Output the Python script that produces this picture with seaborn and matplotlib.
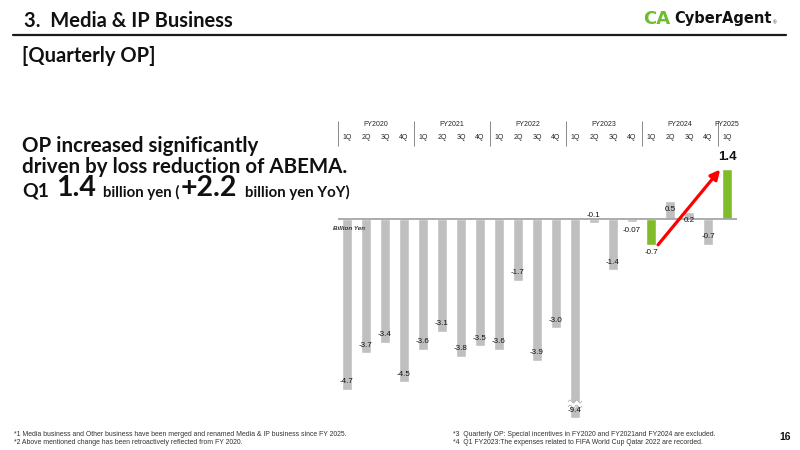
import numpy as np
import pandas as pd
import matplotlib
matplotlib.use("Agg")
import matplotlib.pyplot as plt
import seaborn as sns

# Quarterly OP of Media & IP business (billion yen)
fiscal_years = ["FY2020", "FY2021", "FY2022", "FY2023", "FY2024", "FY2025"]
quarters_per_year = [4, 4, 4, 4, 4, 1]
quarter_labels = ["1Q", "2Q", "3Q", "4Q"] * 5 + ["1Q"]
op_values = [-4.7, -3.7, -3.4, -4.5,
             -3.6, -3.1, -3.8, -3.5,
             -3.6, -1.7, -3.9, -3.0,
             -9.4, -0.1, -1.4, -0.07,
             -0.7, 0.5, 0.2, -0.7,
             1.4]
highlight_idx = [16, 20]          # Q1 FY2024 und Q1 FY2025
label_outside_idx = [15, 16, 20]  # Werte, die ausserhalb des Balkens stehen
axis_floor = -5.5                 # -9.4 wird abgeschnitten dargestellt

W, H = 800, 450
GREY = "#BFBFBF"
GREEN = "#80BC2A"

sns.set_theme(style="white")
plt.rcParams["font.family"] = ["Liberation Sans", "DejaVu Sans"]

fig = plt.figure(figsize=(8, 4.5), dpi=100)


def fx(px):
    return px / W


def fy(py):
    return 1 - py / H


# Daten aufbereiten
years_col = [fy_ for fy_, n in zip(fiscal_years, quarters_per_year) for _ in range(n)]
df = pd.DataFrame({"year": years_col, "quarter": quarter_labels, "op": op_values})
df["period"] = df["year"] + " " + df["quarter"]
df["shown"] = df["op"].clip(lower=axis_floor)
df["color"] = [GREEN if i in highlight_idx else GREY for i in range(len(df))]

# Hauptachse
ax = fig.add_axes([fx(337.5), fy(425), fx(399), 275 / H])
sns.barplot(data=df, x="period", y="shown", hue="period",
            palette=dict(zip(df["period"], df["color"])),
            width=0.5, saturation=1, legend=False, ax=ax)
ax.set_xlim(-0.5, len(df) - 0.5)
ax.set_ylim(-5.68, 1.92)
ax.axhline(0, color="#A6A6A6", lw=1.3, zorder=1)
ax.set_axis_off()

# Bruchmarke auf dem abgeschnittenen Balken
for i, (v, s) in enumerate(zip(df["op"], df["shown"])):
    if v < s:
        xs = np.linspace(i - 0.36, i + 0.36, 40)
        ys = -5.1 + 0.04 * np.sin((xs - i) * 18)
        ax.fill_between(xs, ys - 0.06, ys + 0.06, color="white", zorder=5)
        ax.plot(xs, ys - 0.07, color="#A0A0A0", lw=0.5, zorder=6)
        ax.plot(xs, ys + 0.07, color="#A0A0A0", lw=0.5, zorder=6)

# Wertebeschriftungen
for i, (v, s) in enumerate(zip(df["op"], df["shown"])):
    txt = f"{v:.2f}" if abs(v) < 0.1 else f"{v:.1f}"
    sign = 1 if s < 0 else -1
    if i in label_outside_idx:
        sign = -sign
    if i == len(df) - 1:
        ax.annotate(txt, (i, s), xytext=(0, 12), textcoords="offset pixels",
                    ha="center", va="center", fontsize=9.5, fontweight="bold", color="#111111")
    else:
        ax.annotate(txt, (i, s), xytext=(0, 8 * sign), textcoords="offset pixels",
                    ha="center", va="center", fontsize=5.8, color="#111111", zorder=7)

# Roter Pfeil von Q1 FY2024 zu Q1 FY2025
i0, i1 = highlight_idx
ax.annotate("", xy=(i1 - 0.36, op_values[i1] - 0.02), xytext=(i0 + 0.37, op_values[i0]),
            arrowprops=dict(arrowstyle="-|>", color="#FF0000", lw=2.3,
                            mutation_scale=14, shrinkA=0, shrinkB=0), zorder=8)

# Kopfzeile mit Geschaeftsjahren und Quartalen
axh = fig.add_axes([fx(337.5), fy(147), fx(399), 26 / H])
axh.set_xlim(ax.get_xlim())
axh.set_ylim(0, 1)
axh.set_axis_off()
bounds = np.concatenate([[0], np.cumsum(quarters_per_year)]) - 0.5
axh.vlines(bounds, 0.04, 1.0, color="#888888", lw=0.7)
for k, name in enumerate(fiscal_years):
    axh.text((bounds[k] + bounds[k + 1]) / 2, 0.85, name, ha="center", va="center",
             fontsize=5, color="#222222")
for i, q in enumerate(quarter_labels):
    axh.text(i, 0.36, q, ha="center", va="center", fontsize=5, color="#222222")

fig.text(fx(333), fy(229), "Billion Yen", fontsize=4.5, style="italic",
         fontweight="bold", color="#333333", ha="left", va="center")

# Titel und Logo
HEAD = ["Lato", "DejaVu Sans"]
fig.text(fx(24), fy(21), "3.  Media & IP Business", fontsize=14.5, family=HEAD,
         fontweight="bold", color="#111111", ha="left", va="center")
fig.add_artist(plt.Line2D([fx(13), fx(786)], [fy(35), fy(35)], color="#1A1A1A", lw=1.6))
fig.text(fx(22), fy(56), "[Quarterly OP]", fontsize=14.5, family=HEAD,
         fontweight="bold", color="#111111", ha="left", va="center")
fig.text(fx(643), fy(18.5), "CA", fontsize=13, family="DejaVu Sans", fontweight="bold",
         color="#6DBE2C", ha="left", va="center")
fig.text(fx(674), fy(18.5), "CyberAgent", fontsize=10.5, family="DejaVu Sans",
         fontweight="bold", color="#111111", ha="left", va="center")
fig.text(fx(773), fy(23), "®", fontsize=3.5, color="#333333", ha="left", va="center")

# Kernaussage
fig.text(fx(22), fy(151.7), "OP increased significantly", fontsize=14.75, family=HEAD,
         fontweight="bold", color="#111111", ha="left", va="baseline")
fig.text(fx(22), fy(173.3), "driven by loss reduction of ABEMA.", fontsize=14.75, family=HEAD,
         fontweight="bold", color="#111111", ha="left", va="baseline")

renderer = fig.canvas.get_renderer()
runs = [("Q1", 14, 7), ("1.4", 20.5, 7), ("billion yen (", 10.8, 1),
        ("+2.2", 20.5, 8), ("billion yen YoY)", 10.8, 0)]
x = 22
for s, size, gap in runs:
    t = fig.text(fx(x), fy(196.5), s, fontsize=size, family=HEAD, fontweight="bold",
                 color="#111111", ha="left", va="baseline")
    x += t.get_window_extent(renderer).width + gap

# Fussnoten
NOTE = dict(fontsize=4.95, color="#333333", ha="left", va="center")
fig.text(fx(14), fy(434), "*1 Media business and Other business have been merged and renamed Media & IP business since FY 2025.", **NOTE)
fig.text(fx(14), fy(442), "*2 Above mentioned change has been retroactively reflected from FY 2020.", **NOTE)
fig.text(fx(453), fy(434), "*3  Quarterly OP: Special incentives in FY2020 and FY2021and FY2024 are excluded.", **NOTE)
fig.text(fx(453), fy(442), "*4  Q1 FY2023:The expenses related to FIFA World Cup Qatar 2022 are recorded.", **NOTE)
fig.text(fx(779), fy(437), "16", fontsize=7.5, fontweight="bold", color="#111111",
         ha="left", va="center")

fig.savefig("out.png", dpi=100)
